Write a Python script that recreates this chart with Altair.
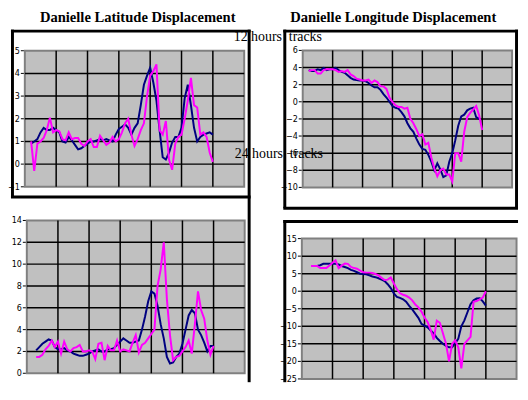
import altair as alt
import pandas as pd

# ---------------- data ----------------
# x positions are time steps; one grid division = 10 steps, plot spans 0..70
XMAX = 70
GRID_X = [10, 20, 30, 40, 50, 60]

steps_a = list(range(2, 61))   # series starting at step 2
steps_b = list(range(3, 61))   # series starting at step 3

lat_ticks_12 = [-1, 0, 1, 2, 3, 4, 5]
lon_ticks_12 = [-10, -8, -6, -4, -2, 0, 2, 4, 6]
lat_ticks_24 = [0, 2, 4, 6, 8, 10, 12, 14]
lon_ticks_24 = [-25, -20, -15, -10, -5, 0, 5, 10, 15]

lat12_navy = [0.9, 1.0, 1.1, 1.4, 1.6, 1.5, 1.5, 1.6, 1.5, 1.4,
              1.0, 0.95, 1.2, 1.05, 0.85, 0.65, 0.7, 0.8, 0.9, 1.0,
              1.0, 1.05, 1.1, 1.05, 1.1, 1.05, 1.0, 1.3, 1.55, 1.65,
              1.75, 1.6, 1.3, 1.6, 1.8, 2.6, 3.5, 3.9, 4.25, 3.6,
              2.8, 1.5, 0.3, 0.2, 0.5, 0.95, 1.2, 1.2, 1.6, 2.9,
              3.5, 2.6, 1.6, 1.0, 1.2, 1.3, 1.35, 1.4, 1.3]
lat12_pink = [1.0, -0.3, 0.9, 1.0, 1.15, 1.5, 2.05, 1.4, 1.5, 1.45,
              1.1, 1.05, 1.4, 1.1, 1.15, 1.15, 0.9, 0.8, 1.0, 1.1,
              0.75, 0.75, 1.25, 1.05, 0.85, 0.95, 1.2, 1.0, 1.1, 1.4,
              1.8, 2.0, 1.3, 0.8, 1.1, 1.5, 1.8, 3.0, 3.9, 4.1,
              4.4, 1.5, 1.3, 1.9, 0.2, -0.25, 0.9, 1.2, 1.3, 2.0,
              2.8, 3.8, 2.6, 2.5, 1.3, 1.4, 1.2, 0.5, 0.1]

lon12_navy = [3.7, 3.6, 3.6, 3.8, 3.7, 3.95, 3.7, 3.8, 3.8, 3.95,
              3.7, 3.5, 3.4, 3.1, 2.8, 2.6, 2.55, 2.5, 2.5, 2.4,
              2.2, 1.9, 1.7, 1.7, 1.4, 0.9, 0.5, 0.0, -0.5, -0.7,
              -0.8, -1.2, -1.7, -2.5, -3.1, -3.5, -4.3, -5.0, -5.5, -5.6,
              -6.2, -7.0, -8.0, -7.2, -7.9, -8.8, -8.6, -7.0, -6.0, -4.5,
              -2.8, -1.7, -1.5, -1.0, -0.8, -0.7, -1.8, -2.0]
lon12_pink = [3.6, 3.7, 3.7, 3.3, 3.3, 3.7, 3.8, 3.8, 3.8, 3.7,
              3.5, 3.6, 3.5, 3.7, 3.2, 3.0, 2.7, 2.6, 2.5, 2.5,
              2.6, 2.2, 2.5, 2.3, 1.8, 1.8, 1.5, 0.5, 0.0, -0.4,
              -0.6, -0.6, -0.8, -0.7, -2.0, -2.5, -3.2, -4.0, -3.8, -5.0,
              -4.8, -6.5, -7.8, -8.7, -8.0, -7.8, -8.5, -8.5, -9.3, -6.0,
              -6.0, -7.0, -3.5, -1.8, -1.3, -0.9, -0.5, -1.6, -3.3]

lat24_navy = [2.1, 2.4, 2.7, 2.9, 3.1, 3.0, 2.4, 2.2, 2.2, 2.3,
              2.1, 2.0, 1.8, 1.7, 1.6, 1.6, 1.7, 1.8, 2.0, 2.1,
              2.2, 2.0, 2.0, 2.2, 2.2, 2.3, 2.6, 2.9, 3.2, 3.0,
              2.8, 2.8, 2.9, 3.0, 4.0, 5.2, 6.6, 7.5, 7.3, 6.2,
              4.5, 3.2, 1.5, 0.9, 1.0, 1.5, 1.8, 2.7, 4.0, 5.3,
              5.8, 5.5, 4.0, 3.5, 2.8, 2.0, 2.5, 2.5]
lat24_pink = [1.5, 1.5, 1.7, 2.2, 2.5, 3.0, 2.4, 2.9, 1.8, 2.9,
              2.2, 2.0, 2.3, 2.4, 2.6, 2.0, 2.0, 2.1, 2.0, 1.3,
              2.7, 2.8, 1.2, 2.5, 2.1, 2.1, 3.0, 2.0, 2.2, 2.1,
              2.0, 2.8, 3.5, 1.9, 2.6, 2.8, 3.2, 3.6, 4.0, 8.0,
              9.5, 12.0, 6.8, 3.5, 1.2, 1.5, 1.6, 2.0, 2.4, 3.0,
              1.8, 4.5, 7.5, 5.8, 5.0, 3.0, 1.7, 2.5]

lon24_navy = [7.2, 7.2, 7.2, 7.4, 7.8, 7.8, 7.8, 7.8, 7.8, 7.6,
              7.2, 6.9, 6.6, 6.1, 5.8, 5.4, 5.0, 4.9, 4.8, 4.5,
              4.2, 4.0, 3.7, 3.3, 2.9, 2.0, 0.9, -0.6, -1.6, -1.9,
              -2.3, -3.0, -4.2, -5.2, -6.4, -7.6, -9.3, -9.8, -10.3, -11.2,
              -12.0, -13.3, -14.2, -15.0, -15.6, -16.0, -16.0, -14.8, -13.6, -10.0,
              -8.3, -6.0, -3.7, -2.6, -2.1, -2.0, -2.9, -4.1]
lon24_pink = [7.2, 7.2, 7.2, 6.6, 6.6, 6.6, 7.3, 8.1, 8.8, 6.6,
              7.3, 7.9, 7.8, 6.9, 6.6, 6.4, 5.9, 5.4, 5.3, 5.3,
              5.2, 4.9, 4.5, 3.8, 3.2, 3.3, 3.9, 2.2, 0.6, -0.6,
              -1.0, -1.3, -1.8, -2.6, -3.8, -4.6, -5.8, -7.5, -8.8, -11.0,
              -13.8, -8.4, -9.0, -12.0, -15.0, -20.0, -15.0, -14.0, -16.0, -22.0,
              -15.0, -14.0, -13.0, -3.0, -2.8, -2.3, -1.8, 0.0]

title_lat = "Danielle Latitude Displacement"
title_lon = "Danielle Longitude Displacement"
note_12 = "12 hours\u00a0 tracks"
note_24 = "24 hours\u00a0 tracks"

NAVY = "#000080"
PINK = "#FF00FF"
PLOT_BG = "#C0C0C0"
PLOT_EDGE = "#808080"
LABEL_FONT = "Liberation Sans Narrow, DejaVu Sans Condensed, Arial Narrow, Liberation Sans, sans-serif"
SERIF = "Liberation Serif, Times New Roman, serif"

one = pd.DataFrame({"k": [0]})


def border(x1, x2, y1, y2):
    enc = dict(x=alt.value(x1), y=alt.value(y1))
    if x2 != x1:
        enc["x2"] = alt.value(x2)
    if y2 != y1:
        enc["y2"] = alt.value(y2)
    return alt.Chart(one).mark_rule(color="black", strokeWidth=3).encode(**enc)


def label(txt, x, y, size, weight="normal", align="left", baseline="alphabetic"):
    return alt.Chart(one).mark_text(
        text=txt, font=SERIF, fontSize=size, fontWeight=weight,
        align=align, baseline=baseline, color="black"
    ).encode(x=alt.value(x), y=alt.value(y))


def panel(nx, navy, px, pink, yticks, W, H, plot, sides, extras=()):
    px0, px1, py0, py1 = plot
    ymin, ymax = yticks[0], yticks[-1]
    kx = (px1 - px0) / XMAX
    ky = (py1 - py0) / (ymax - ymin)
    xs = alt.Scale(domain=[-px0 / kx, XMAX + (W - px1) / kx], nice=False, zero=False)
    ys = alt.Scale(domain=[ymin - (H - py1) / ky, ymax + py0 / ky], nice=False, zero=False)

    def Y(f):
        return alt.Y(f, type="quantitative", scale=ys, axis=None)

    def X(f):
        return alt.X(f, type="quantitative", scale=xs, axis=None)

    bgdf = pd.DataFrame({"x0": [0], "x1": [XMAX], "y0": [ymin], "y1": [ymax]})
    bg = alt.Chart(bgdf).mark_rect(fill=PLOT_BG, stroke=PLOT_EDGE, strokeWidth=2).encode(
        x=X("x0"), x2="x1", y=Y("y0"), y2="y1")

    tdf = pd.DataFrame({"y": yticks})
    tick = alt.Chart(tdf).mark_rule(color="black", strokeWidth=1).encode(
        x=alt.value(px0 - 4), x2=alt.value(px0 - 1), y=Y("y"))
    tlab = alt.Chart(tdf).mark_text(
        align="right", baseline="middle", font=LABEL_FONT, fontSize=9, color="black"
    ).encode(x=alt.value(px0 - 5), y=Y("y"), text=alt.Text("y:Q", format="d"))

    hdf = pd.DataFrame({"y": yticks[1:-1], "x0": 0, "x1": XMAX})
    hg = alt.Chart(hdf).mark_rule(color="black", strokeWidth=1.5).encode(
        x=X("x0"), x2="x1", y=Y("y"))
    vdf = pd.DataFrame({"x": GRID_X, "y0": ymin, "y1": ymax})
    vg = alt.Chart(vdf).mark_rule(color="black", strokeWidth=1.5).encode(
        x=X("x"), y=Y("y0"), y2="y1")

    ln = []
    for xs_, vals, col in ((nx, navy, NAVY), (px, pink, PINK)):
        df = pd.DataFrame({"t": xs_, "v": vals})
        ln.append(alt.Chart(df).mark_line(color=col, strokeWidth=2).encode(
            x=X("t"), y=Y("v")))

    brd = [border(*s) for s in sides]
    return alt.layer(bg, hg, vg, tick, tlab, *ln, *brd, *extras).properties(width=W, height=H)


# panel sizes (view = the chart-area box of each sub-chart)
WL, WR = 242, 237
H1, H2 = 189, 187

TL = panel(steps_a, lat12_navy, steps_a, lat12_pink, lat_ticks_12,
           WL, H1, (14, 235.5, 41.3, 178.7),
           [(0, WL, 21.5, 21.5), (1.5, 1.5, 20, H1), (240.5, 240.5, 20, H1)],
           [label(title_lat, 128, 0, 14.7, "bold", "center", "top")])
TR = panel(steps_a[:-1], lon12_navy, steps_a, lon12_pink, lon_ticks_12,
           WR, H1, (19.6, 231, 41, 179.3),
           [(0, WR, 21.5, 21.5), (1.5, 1.5, 20, H1), (235.5, 235.5, 20, H1)],
           [label(title_lon, 111, 0, 14.7, "bold", "center", "top"),
            label(note_12, -50, 31, 14), label(note_24, -49, 150, 14)])
BL = panel(steps_b, lat24_navy, steps_b, lat24_pink, lat_ticks_24,
           WL, H2, (16, 236, 23.7, 178),
           [(0, WL, 0, 0), (240.5, 240.5, 0, H2)])
BR = panel(steps_b, lon24_navy, steps_b, lon24_pink, lon_ticks_24,
           WR, H2, (18.7, 235.5, 42, 183.7),
           [(1.5, 1.5, 0, 11.3), (235.5, 235.5, 0, 11.3), (0, WR, 11.3, 11.3),
            (0, WR, 24.7, 24.7), (1.5, 1.5, 23.2, H2)])

chart = alt.concat(TL, TR, BL, BR, columns=2, spacing={"row": 0, "column": 33},
                   bounds="flush").properties(
    padding={"left": 0, "top": 0, "right": 0, "bottom": 0},
    background="white",
).configure_view(stroke=None)

chart.save("out.html", embed_options={"renderer": "svg", "actions": False})
